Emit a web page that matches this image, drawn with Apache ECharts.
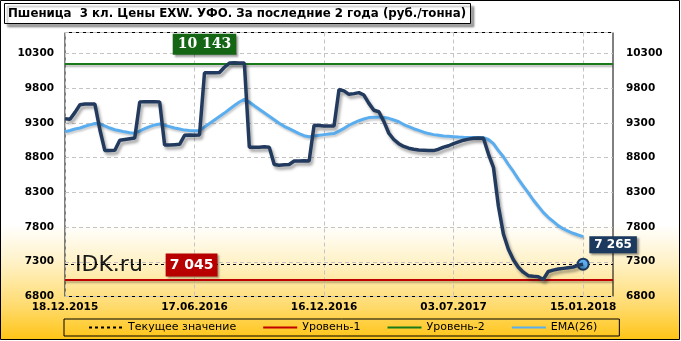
<!DOCTYPE html>
<html>
<head>
<meta charset="utf-8">
<script src="https://cdn.jsdelivr.net/npm/echarts@6/dist/echarts.min.js"></script>
<style>
html,body{margin:0;padding:0;background:#fff;}
#chart{width:681px;height:341px;}
</style>
</head>
<body>
<div id="chart"></div>
<script>
// ---- data ----
const titleText = 'Пшеница  3 кл. Цены EXW. УФО. За последние 2 года (руб./тонна)';
const tickLabels = ['18.12.2015', '17.06.2016', '16.12.2016', '03.07.2017', '15.01.2018'];
const tickIndex = [0, 26, 52, 78, 104];
const slotCount = 111;
const yTicks = [6800, 7300, 7800, 8300, 8800, 9300, 9800, 10300];

const price = [
  9360, 9350, 9450, 9560, 9570, 9570, 9570, 9200, 8900, 8900,
  8905, 9050, 9060, 9070, 9080, 9600, 9605, 9605, 9605, 9600,
  8980, 8980, 8985, 8990, 9120, 9125, 9120, 9125, 10020, 10020,
  10020, 10025, 10100, 10160, 10165, 10160, 10160, 8950, 8950, 8950,
  8955, 8950, 8700, 8690, 8695, 8700, 8750, 8750, 8755, 8750,
  9265, 9260, 9255, 9255, 9255, 9780, 9760, 9710, 9720, 9735,
  9700, 9580, 9480, 9460, 9320, 9150, 9060, 9000, 8960, 8935,
  8920, 8910, 8905, 8900, 8900, 8920, 8950, 8970, 9000, 9025,
  9050, 9065, 9077, 9080, 9077, 8850, 8660, 8100, 7700, 7480,
  7330, 7220, 7150, 7100, 7090, 7085, 7045, 7160, 7180, 7195,
  7205, 7215, 7225, 7250, 7265
];
const ema = [
  9172, 9190, 9210, 9225, 9250, 9270, 9290, 9285, 9255, 9225,
  9200, 9185, 9170, 9158, 9150, 9180, 9215, 9245, 9270, 9283,
  9265, 9245, 9225, 9210, 9195, 9190, 9187, 9187, 9240, 9290,
  9340, 9390, 9440, 9495, 9550, 9600, 9638, 9600, 9545, 9495,
  9445, 9395, 9345, 9295, 9250, 9215, 9180, 9145, 9115, 9100,
  9110, 9120, 9130, 9139, 9145, 9180, 9220, 9265, 9300, 9330,
  9355, 9375, 9380, 9380, 9378, 9365, 9340, 9315, 9275, 9245,
  9215, 9190, 9165, 9145, 9130, 9120, 9110, 9105, 9100, 9095,
  9091, 9090, 9090, 9090, 9088, 9060, 9000, 8900, 8812, 8700,
  8600, 8490, 8390, 8290, 8189, 8100, 8010, 7940, 7880, 7820,
  7775, 7740, 7710, 7685, 7661
];
const currentValue = 7265;
const level1 = 7045;
const level2 = 10143;
const legendNames = ['Текущее значение', 'Уровень-1', 'Уровень-2', 'EMA(26)'];

// ---- build ----
const categories = Array.from({length: slotCount}, (_, i) => {
  const k = tickIndex.indexOf(i);
  return k >= 0 ? tickLabels[k] : ('#' + i);
});
const fmtNum = v => String(v).replace(/\B(?=(\d{3})+(?!\d))/g, ' ');
const lastIdx = price.length - 1;

const axisFont = {fontFamily: 'DejaVu Sans', fontWeight: 'bold', fontSize: 10.5, color: '#000'};
const shadowLine = {shadowColor: 'rgba(0,0,0,0.35)', shadowBlur: 3, shadowOffsetX: 2, shadowOffsetY: 3};

function yAxisCfg(pos) {
  return {
    type: 'value', position: pos, min: 6800, max: 10600, interval: 500,
    axisLine: {show: false}, axisTick: {show: false},
    axisLabel: Object.assign({
      margin: pos === 'left' ? 11 : 13,
      formatter: v => yTicks.includes(v) ? String(v) : ''
    }, axisFont),
    splitLine: {show: pos === 'left', lineStyle: {color: '#c4c4c4', type: [4, 3], width: 1}}
  };
}

const chart = echarts.init(document.getElementById('chart'));
chart.setOption({
  animation: false,
  title: {
    text: titleText, left: 4, top: 3, padding: [3, 5, 3, 4],
    backgroundColor: '#fff', borderColor: '#000', borderWidth: 1,
    shadowColor: 'rgba(0,0,0,0.35)', shadowBlur: 2, shadowOffsetX: 3, shadowOffsetY: 3,
    textStyle: {fontFamily: 'DejaVu Sans', fontWeight: 'bold', fontSize: 11.8, color: '#000', lineHeight: 15}
  },
  graphic: [
    {type: 'rect', z: -10, silent: true,
      shape: {x: 0.5, y: 0.5, width: 679, height: 339},
      style: {fill: {type: 'linear', x: 0, y: 0, x2: 0, y2: 1, colorStops: [
        {offset: 0, color: '#ffffff'}, {offset: 0.66, color: '#ffffff'},
        {offset: 0.77, color: '#fff2c8'}, {offset: 0.9, color: '#ffdb6e'}, {offset: 1, color: '#ffc414'}]},
        stroke: '#000', lineWidth: 1}},
    {type: 'text', left: 75, top: 254, silent: true, z: 1,
      style: {text: 'IDK.ru', fontFamily: 'DejaVu Sans', fontSize: 22, fontWeight: 'normal', fill: '#1a1a1a'}}
  ],
  legend: {
    data: legendNames, left: 64, top: 319, itemWidth: 34, itemHeight: 10, itemGap: 26,
    padding: [3, 22, 3, 24], borderColor: '#000', borderWidth: 1,
    itemStyle: {opacity: 0},
    textStyle: {fontFamily: 'DejaVu Sans', fontSize: 11, color: '#000'}
  },
  grid: {left: 65, right: 68, top: 32.5, height: 264, show: true, borderColor: '#000', borderWidth: 1, backgroundColor: 'transparent'},
  xAxis: {
    type: 'category', data: categories, boundaryGap: false,
    axisLine: {show: false}, axisTick: {show: false},
    axisLabel: Object.assign({interval: 25, margin: 5, formatter: v => tickLabels.includes(v) ? v : ''}, axisFont),
    splitLine: {show: true, interval: 25, lineStyle: {color: '#c4c4c4', type: [4, 3], width: 1}}
  },
  yAxis: [yAxisCfg('left'), yAxisCfg('right')],
  series: [
    {
      name: 'Цена', type: 'line', data: price, symbol: 'none', z: 6,
      lineStyle: Object.assign({color: '#223a5e', width: 3.5}, shadowLine),
      itemStyle: {color: '#223a5e'},
      markPoint: {
        silent: true, animation: false,
        data: [
          {coord: [lastIdx, price[lastIdx]], symbol: 'circle', symbolSize: 11,
            itemStyle: {color: '#5aaef0', borderColor: '#1e3a5f', borderWidth: 2}, label: {show: false}},
          {coord: [lastIdx, price[lastIdx]], symbol: 'rect', symbolSize: 0,
            label: {show: true, formatter: fmtNum(currentValue), offset: [30, -19.5],
              backgroundColor: '#1b3a5e', color: '#fff', padding: [3, 5, 2, 5],
              fontFamily: 'DejaVu Sans', fontWeight: 'bold', fontSize: 12,
              shadowColor: 'rgba(0,0,0,0.4)', shadowBlur: 2, shadowOffsetX: 2, shadowOffsetY: 2}},
          {coord: [28, level2], symbol: 'rect', symbolSize: 0,
            label: {show: true, formatter: fmtNum(level2), offset: [0, -20],
              backgroundColor: '#146514', color: '#fff', padding: [4, 5, 3, 5],
              fontFamily: 'DejaVu Serif', fontWeight: 'bold', fontSize: 14,
              shadowColor: 'rgba(0,0,0,0.4)', shadowBlur: 2, shadowOffsetX: 2, shadowOffsetY: 2}},
          {coord: [25, level1], symbol: 'rect', symbolSize: 0,
            label: {show: true, formatter: fmtNum(level1), offset: [2, -14.5],
              backgroundColor: '#b80000', color: '#fff', padding: [5, 4, 4, 4],
              fontFamily: 'DejaVu Sans', fontWeight: 'bold', fontSize: 14,
              shadowColor: 'rgba(0,0,0,0.4)', shadowBlur: 2, shadowOffsetX: 2, shadowOffsetY: 2}}
        ]
      }
    },
    {
      name: 'EMA(26)', type: 'line', data: ema, symbol: 'none', z: 5,
      lineStyle: Object.assign({color: '#5aaef0', width: 3}, {shadowColor: 'rgba(0,0,0,0.2)', shadowBlur: 2, shadowOffsetX: 1, shadowOffsetY: 2}),
      itemStyle: {color: '#5aaef0'}
    },
    {
      name: 'Текущее значение', type: 'line', data: [], symbol: 'none', z: 4,
      lineStyle: {color: '#000', width: 1, type: [3, 3]}, itemStyle: {color: '#000'},
      markLine: {silent: true, symbol: 'none', animation: false, label: {show: false},
        lineStyle: {color: '#000', width: 1, type: [3, 3]},
        data: [{yAxis: currentValue}]}
    },
    {
      name: 'Уровень-1', type: 'line', data: [], symbol: 'none', z: 3,
      lineStyle: {color: '#c00000', width: 2.5}, itemStyle: {color: '#c00000'},
      markLine: {silent: true, symbol: 'none', animation: false, label: {show: false},
        lineStyle: Object.assign({color: '#c00000', width: 2, type: 'solid'}, {shadowColor: 'rgba(0,0,0,0.3)', shadowBlur: 2, shadowOffsetY: 2}),
        data: [{yAxis: level1}]}
    },
    {
      name: 'Уровень-2', type: 'line', data: [], symbol: 'none', z: 3,
      lineStyle: {color: '#1a7a1a', width: 2.5}, itemStyle: {color: '#1a7a1a'},
      markLine: {silent: true, symbol: 'none', animation: false, label: {show: false},
        lineStyle: Object.assign({color: '#1a7a1a', width: 2, type: 'solid'}, {shadowColor: 'rgba(0,0,0,0.3)', shadowBlur: 2, shadowOffsetY: 2}),
        data: [{yAxis: level2}]}
    }
  ]
});
</script>
</body>
</html>
